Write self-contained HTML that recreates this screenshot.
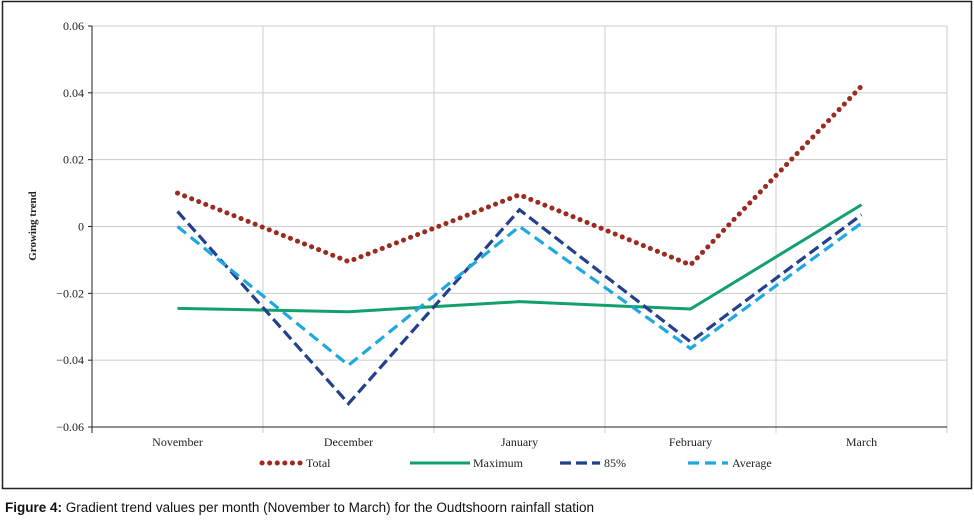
<!DOCTYPE html>
<html><head><meta charset="utf-8"><style>
body{margin:0;background:#fff;width:974px;height:524px;overflow:hidden}
svg text{font-family:"Liberation Serif",serif;font-size:12px;fill:#222}
</style></head><body>
<svg width="974" height="524">
<rect x="2.5" y="1.5" width="969" height="487" fill="none" stroke="#222" stroke-width="1.5"/>
<g id="grid"></g><g id="axes"></g><g id="series"></g><g id="legend"></g>
<text x="36" y="226" transform="rotate(-90 36 226)" text-anchor="middle" font-weight="bold" style="font-size:11px">Growing trend</text>
<text x="5" y="512" style="font-family:'Liberation Sans',sans-serif;font-size:13.5px;fill:#111"><tspan font-weight="bold">Figure 4:</tspan> Gradient trend values per month (November to March) for the Oudtshoorn rainfall station</text>
</svg>
<script>
const categories=["November","December","January","February","March"];
const total=[0.010,-0.0105,0.0095,-0.0115,0.042];
const maximum=[-0.0245,-0.0255,-0.0225,-0.0247,0.0065];
const p85=[0.0045,-0.053,0.005,-0.0345,0.0035];
const average=[0,-0.0415,0,-0.0365,0.001];
const yTicks=[0.06,0.04,0.02,0,-0.02,-0.04,-0.06];
const yLabels=["0.06","0.04","0.02","0","\u22120.02","\u22120.04","\u22120.06"];
const X0=92,X1=947,Y0=26,Y1=427;
const bw=(X1-X0)/categories.length;
const x=i=>X0+bw*(i+0.5);
const y=v=>Y0+(0.06-v)/0.12*(Y1-Y0);
const NS="http://www.w3.org/2000/svg";
function mk(tag,attrs,parent){const e=document.createElementNS(NS,tag);for(const k in attrs)e.setAttribute(k,attrs[k]);document.getElementById(parent).appendChild(e);return e;}
yTicks.forEach((t,i)=>{
 if(i<yTicks.length-1){const g=mk('line',{x1:X0,x2:X1,y1:y(t),y2:y(t),stroke:'#ccc','stroke-width':1},'grid');
 
 }
 const tk=mk('line',{x1:X0-4,x2:X0,y1:y(t),y2:y(t),stroke:'#222'},'axes');
 
 
 const l=mk('text',{x:X0-8,y:y(t)+4,'text-anchor':'end'},'axes');l.textContent=yLabels[i];
 
 
});
for(let i=0;i<=categories.length;i++){
 const xx=X0+bw*i;
 const g=mk('line',{x1:xx,x2:xx,y1:Y0,y2:Y1+6,stroke:i==0?'#222':'#ccc'},'grid');
 
 
}
categories.forEach((c,i)=>{const t=mk('text',{x:x(i),y:Y1+19,'text-anchor':'middle'},'axes');t.textContent=c;
 
 });
const ax=mk('line',{x1:X0,x2:X1,y1:Y1,y2:Y1,stroke:'#222'},'axes');


const styles=[
 {d:total,c:'#9b2a1f',dash:'0.1 7.5',cap:'round',w:5,n:'Total',name:'total-line'},
 {d:maximum,c:'#12a06c',dash:'',cap:'butt',w:3,n:'Maximum',name:'maximum-line'},
 {d:p85,c:'#23408e',dash:'11 5',cap:'butt',w:3.2,n:'85%',name:'p85-line'},
 {d:average,c:'#1fa8e0',dash:'11 6',cap:'butt',w:3.2,n:'Average',name:'average-line'}];
const lx=[262,410,560,688];
styles.forEach((s,k)=>{
 const p=mk('polyline',{points:s.d.map((v,i)=>x(i)+','+y(v)).join(' '),fill:'none',stroke:s.c,'stroke-width':s.w,'stroke-dasharray':s.dash,'stroke-linecap':s.cap},'series');
 
 
 const ll=mk('line',{x1:lx[k],x2:lx[k]+(k==1?60:40),y1:463,y2:463,stroke:s.c,'stroke-width':s.w,'stroke-dasharray':s.dash,'stroke-linecap':s.cap},'legend');
 
 
 const lt=mk('text',{x:lx[k]+(k==1?63:44),y:467},'legend');lt.textContent=s.n;
 
 
});
</script>
</body></html>
